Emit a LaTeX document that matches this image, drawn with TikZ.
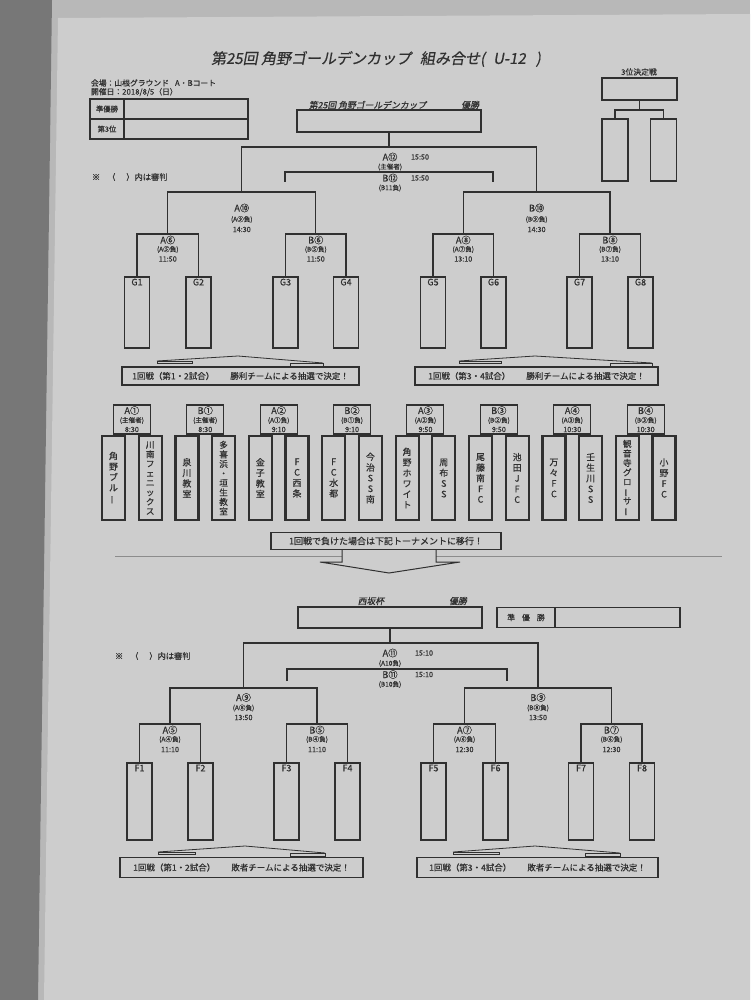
\documentclass[tikz,border=0pt]{standalone}
\usepackage{fontspec}
\usepackage{graphicx}
\setmainfont{Noto Sans CJK JP}[FakeBold=0.5]
\newfontfamily\jpsl{Noto Sans CJK JP}[FakeSlant=0.18,FakeBold=0.5]
\definecolor{ink}{HTML}{303030}
\definecolor{pagec}{HTML}{CDCDCD}
\definecolor{outc}{HTML}{B8B8B8}
\definecolor{stripc}{HTML}{777777}
\definecolor{sepc}{HTML}{8C8C8C}
\newcommand\jbar{\rotatebox[origin=c]{90}{ー}}
\begin{document}
\begin{tikzpicture}[x=1pt,y=-1pt,
  ln/.style={draw=ink,line width=1.05pt},
  bx/.style={draw=ink,line width=1.05pt,inner sep=0pt,outer sep=0pt},
  gbx/.style={bx,minimum width=25pt,minimum height=71pt},
  fbx/.style={bx,minimum width=25pt,minimum height=77pt},
  tm/.style={draw=ink,line width=2.2pt,minimum width=23pt,minimum height=84pt,inner sep=0pt,outer sep=0pt,align=center,font=\fontsize{8.9}{10.6}\selectfont,text=ink},
  tml/.style={tm,font=\fontsize{8.6}{9.5}\selectfont},
  lbx/.style={bx,minimum width=37pt,minimum height=29pt},
  tx/.style={inner sep=0pt,outer sep=0pt,text=ink},
  bigl/.style={tx,font=\fontsize{9.2}{9.5}\selectfont},
  subl/.style={tx,font=\fontsize{6.6}{7}\selectfont},
  tim/.style={tx,font=\fontsize{7.2}{7.5}\selectfont},
  ban/.style={bx,minimum height=18pt,font=\fontsize{8.5}{9}\selectfont,text=ink},
  glab/.style={label={[anchor=north,inner sep=0pt,yshift=-1.5pt,font=\fontsize{9}{9.5}\selectfont,text=ink]north:#1}}
]
\useasboundingbox (0,0) rectangle (750,1000);
% background
\fill[outc] (0,0) rectangle (750,1000);
\fill[pagec] (58,18) -- (750,14) -- (750,1000) -- (44,1000) -- cycle;
\fill[stripc] (0,0) -- (52,0) -- (38,1000) -- (0,1000) -- cycle;

% ===== header =====
\node[tx,font=\jpsl\fontsize{15}{16}\selectfont] (title) at (376,59) {第25回 角野ゴールデンカップ\hspace{9pt}組み合せ(\hspace{8pt}U-12\hspace{10pt})};
\node[tx,anchor=west,font=\fontsize{7.8}{8}\selectfont] (venue) at (91,83) {会場：山根グラウンド\hspace{6pt}A・Bコート};
\node[tx,anchor=west,font=\fontsize{7.8}{8}\selectfont] (date) at (91,92) {開催日：2018/8/5（日）};

\node[bx,line width=1.3pt,minimum width=34pt,minimum height=20pt,font=\fontsize{7.3}{8}\selectfont,text=ink] (jlab) at (107,109) {準優勝};
\node[bx,line width=1.3pt,minimum width=124pt,minimum height=20pt] (jval) at (186,109) {};
\node[bx,line width=1.3pt,minimum width=34pt,minimum height=20pt,font=\fontsize{7.3}{8}\selectfont,text=ink] (slab) at (107,129) {第3位};
\node[bx,line width=1.3pt,minimum width=124pt,minimum height=20pt] (sval) at (186,129) {};

\node[tx,anchor=west,font=\fontsize{8.2}{9}\selectfont] (note1) at (92,177) {※\hspace{7pt}（\hspace{11pt}）内は審判};

% winner box upper
\node[tx,anchor=west,font=\jpsl\fontsize{8.8}{9}\selectfont] (uwt) at (309,105) {第25回 角野ゴールデンカップ};
\node[tx,anchor=east,font=\jpsl\fontsize{8.8}{9}\selectfont] (uwy) at (479,105) {優勝};
\node[bx,minimum width=184pt,minimum height=22pt] (uwin) at (389,121) {};

% third place
\node[tx,font=\fontsize{7.8}{8}\selectfont] (t3t) at (639,72) {3位決定戦};
\node[bx,minimum width=75pt,minimum height=22pt] (u3) at (639.5,89) {};
\node[bx,minimum width=26pt,minimum height=62pt] (u3a) at (615,150) {};
\node[bx,minimum width=26pt,minimum height=62pt] (u3b) at (663.5,150) {};
\coordinate (u3m) at (639.5,110);
\draw[ln] (u3.south) -- (u3m);
\draw[ln] (u3a.north) |- (u3m) -| (u3b.north);

% ===== upper bracket =====
\node[gbx,glab=G1] (g1) at (137,312.5) {};
\node[gbx,glab=G2] (g2) at (198.5,312.5) {};
\node[gbx,glab=G3] (g3) at (285.5,312.5) {};
\node[gbx,glab=G4] (g4) at (346,312.5) {};
\node[gbx,glab=G5] (g5) at (433,312.5) {};
\node[gbx,glab=G6] (g6) at (493.5,312.5) {};
\node[gbx,glab=G7] (g7) at (579.5,312.5) {};
\node[gbx,glab=G8] (g8) at (640.5,312.5) {};
\coordinate (ua1) at (167.75,234);
\coordinate (ua2) at (315.75,234);
\coordinate (ua3) at (463.25,234);
\coordinate (ua4) at (610,234);
\coordinate (ub1) at (241.75,192);
\coordinate (ub2) at (536.6,192);
\coordinate (uc) at (389,147);
\draw[ln] (g1.north) |- (ua1) -| (g2.north);
\draw[ln] (g3.north) |- (ua2) -| (g4.north);
\draw[ln] (g5.north) |- (ua3) -| (g6.north);
\draw[ln] (g7.north) |- (ua4) -| (g8.north);
\draw[ln] (ua1) |- (ub1) -| (ua2);
\draw[ln] (ua3) |- (ub2) -| (ua4);
\draw[ln] (ub1) |- (uc) -| (ub2);
\draw[ln] (uwin.south) -- (uc);
\coordinate (uk0) at (389,172);
\coordinate (uk1) at (285,182);
\coordinate (uk2) at (493,182);
\draw[ln] (uk1) |- (uk0) -| (uk2);

% upper labels
\node[bigl] (la6) at (167.75,240) {A⑥};
\node[subl] (la6s) at (167.75,249.5) {(A⑤負)};
\node[tim] (la6t) at (167.75,259) {11:50};
\node[bigl] (lb6) at (315.75,240) {B⑥};
\node[subl] (lb6s) at (315.75,249.5) {(B⑤負)};
\node[tim] (lb6t) at (315.75,259) {11:50};
\node[bigl] (la8) at (463.25,240) {A⑧};
\node[subl] (la8s) at (463.25,249.5) {(A⑦負)};
\node[tim] (la8t) at (463.25,259) {13:10};
\node[bigl] (lb8) at (610,240) {B⑧};
\node[subl] (lb8s) at (610,249.5) {(B⑦負)};
\node[tim] (lb8t) at (610,259) {13:10};
\node[bigl] (la10) at (241.75,208) {A⑩};
\node[subl] (la10s) at (241.75,219.5) {(A⑨負)};
\node[tim] (la10t) at (241.75,229.5) {14:30};
\node[bigl] (lb10) at (536.6,208) {B⑩};
\node[subl] (lb10s) at (536.6,219.5) {(B⑨負)};
\node[tim] (lb10t) at (536.6,229.5) {14:30};
\node[bigl] (la12) at (390,157) {A⑫};
\node[tim] (la12t) at (420,157) {15:50};
\node[subl] (la12s) at (390,167) {(主催者)};
\node[bigl] (lb12) at (390,178) {B⑫};
\node[tim] (lb12t) at (420,178) {15:50};
\node[subl] (lb12s) at (390,188) {(B11負)};

% banners upper
\node[ban,minimum width=237pt] (b1) at (240.5,376) {1回戦（第1・2試合）\hspace{16pt}勝利チームによる抽選で決定！};
\node[ban,minimum width=243pt] (b2) at (536.5,376) {1回戦（第3・4試合）\hspace{16pt}勝利チームによる抽選で決定！};
\draw[ln,line width=0.8pt] (157,361) -- (238,356) -- (323,363);
\draw[ln,line width=0.8pt] (157,361) rectangle (192,363.5);
\draw[ln,line width=0.8pt] (290,363) rectangle (323,366);
\draw[ln,line width=0.8pt] (459,361) -- (535,356) -- (652,363);
\draw[ln,line width=0.8pt] (459,361) rectangle (501,363.5);
\draw[ln,line width=0.8pt] (610,363) rectangle (652,366);

% ===== first round =====
\node[lbx] (m1) at (131.85,419.5) {};
\node[lbx] (m2) at (205.25,419.5) {};
\node[lbx] (m3) at (278.65,419.5) {};
\node[lbx] (m4) at (352.05,419.5) {};
\node[lbx] (m5) at (425.45,419.5) {};
\node[lbx] (m6) at (498.85,419.5) {};
\node[lbx] (m7) at (572.25,419.5) {};
\node[lbx] (m8) at (645.65,419.5) {};
\node[bigl] at (m1.north) [yshift=-5.5pt] (m1a) {A①};
\node[subl] at (m1.center) [yshift=-1pt] (m1b) {(主催者)};
\node[tim] at (m1.south) [yshift=4.5pt] (m1c) {8:30};
\node[bigl] at (m2.north) [yshift=-5.5pt] (m2a) {B①};
\node[subl] at (m2.center) [yshift=-1pt] (m2b) {(主催者)};
\node[tim] at (m2.south) [yshift=4.5pt] (m2c) {8:30};
\node[bigl] at (m3.north) [yshift=-5.5pt] (m3a) {A②};
\node[subl] at (m3.center) [yshift=-1pt] (m3b) {(A①負)};
\node[tim] at (m3.south) [yshift=4.5pt] (m3c) {9:10};
\node[bigl] at (m4.north) [yshift=-5.5pt] (m4a) {B②};
\node[subl] at (m4.center) [yshift=-1pt] (m4b) {(B①負)};
\node[tim] at (m4.south) [yshift=4.5pt] (m4c) {9:10};
\node[bigl] at (m5.north) [yshift=-5.5pt] (m5a) {A③};
\node[subl] at (m5.center) [yshift=-1pt] (m5b) {(A②負)};
\node[tim] at (m5.south) [yshift=4.5pt] (m5c) {9:50};
\node[bigl] at (m6.north) [yshift=-5.5pt] (m6a) {B③};
\node[subl] at (m6.center) [yshift=-1pt] (m6b) {(B②負)};
\node[tim] at (m6.south) [yshift=4.5pt] (m6c) {9:50};
\node[bigl] at (m7.north) [yshift=-5.5pt] (m7a) {A④};
\node[subl] at (m7.center) [yshift=-1pt] (m7b) {(A③負)};
\node[tim] at (m7.south) [yshift=4.5pt] (m7c) {10:30};
\node[bigl] at (m8.north) [yshift=-5.5pt] (m8a) {B④};
\node[subl] at (m8.center) [yshift=-1pt] (m8b) {(B③負)};
\node[tim] at (m8.south) [yshift=4.5pt] (m8c) {10:30};

\node[tm] (t1) at (113.5,478) {角\\野\\ブ\\ル\\\jbar};
\node[tml] (t2) at (150.2,478) {川\\南\\フ\\ェ\\ニ\\ッ\\ク\\ス};
\node[tm] (t3) at (186.9,478) {泉\\川\\教\\室};
\node[tml] (t4) at (223.6,478) {多\\喜\\浜\\・\\垣\\生\\教\\室};
\node[tm] (t5) at (260.3,478) {金\\子\\教\\室};
\node[tm] (t6) at (297.0,478) {F\\C\\西\\条};
\node[tm] (t7) at (333.7,478) {F\\C\\水\\都};
\node[tm] (t8) at (370.4,478) {今\\治\\S\\S\\南};
\node[tm] (t9) at (407.1,478) {角\\野\\ホ\\ワ\\イ\\ト};
\node[tm] (t10) at (443.8,478) {周\\布\\S\\S};
\node[tm] (t11) at (480.5,478) {尾\\藤\\南\\F\\C};
\node[tm] (t12) at (517.2,478) {池\\田\\J\\F\\C};
\node[tm] (t13) at (553.9,478) {万\\々\\F\\C};
\node[tm] (t14) at (590.6,478) {壬\\生\\川\\S\\S};
\node[tml] (t15) at (627.3,478) {観\\音\\寺\\グ\\ロ\\\jbar\\サ\\\jbar};
\node[tm] (t16) at (664.0,478) {小\\野\\F\\C};

% ===== transfer banner & arrow =====
\draw[sepc,line width=0.8pt] (115,556) -- (722,556);
\filldraw[fill=pagec,draw=ink,line width=1pt] (342,549.5) -- (342,562) -- (320,562) -- (389,573) -- (460,562) -- (436,562) -- (436,549.5);
\node[bx,fill=pagec,minimum width=230pt,minimum height=17pt,font=\fontsize{9}{9.5}\selectfont,text=ink] (mv) at (386,541) {1回戦で負けた場合は下記トーナメントに移行！};

% ===== lower bracket =====
\node[tx,font=\jpsl\fontsize{8.8}{9}\selectfont] (lwt) at (371,601) {西坂杯};
\node[tx,font=\jpsl\fontsize{8.8}{9}\selectfont] (lwy) at (458,601) {優勝};
\node[bx,minimum width=184pt,minimum height=21pt] (lwin) at (390,617.5) {};
\node[bx,minimum width=58pt,minimum height=20pt,font=\fontsize{7.8}{8}\selectfont,text=ink] (jlab2) at (526,617.5) {準\hspace{7pt}優\hspace{7pt}勝};
\node[bx,minimum width=125pt,minimum height=20pt] (jval2) at (617.5,617.5) {};
\node[tx,anchor=west,font=\fontsize{8.2}{9}\selectfont] (note2) at (115,656) {※\hspace{7pt}（\hspace{11pt}）内は審判};

\node[fbx,glab=F1] (f1) at (139.5,801.5) {};
\node[fbx,glab=F2] (f2) at (200.5,801.5) {};
\node[fbx,glab=F3] (f3) at (286.5,801.5) {};
\node[fbx,glab=F4] (f4) at (347.5,801.5) {};
\node[fbx,glab=F5] (f5) at (433.5,801.5) {};
\node[fbx,glab=F6] (f6) at (495.5,801.5) {};
\node[fbx,glab=F7] (f7) at (581,801.5) {};
\node[fbx,glab=F8] (f8) at (642,801.5) {};
\coordinate (la1) at (170,724);
\coordinate (la2) at (317,724);
\coordinate (la3) at (464.5,724);
\coordinate (la4) at (611.5,724);
\coordinate (lb1) at (243.5,688);
\coordinate (lb2) at (538,688);
\coordinate (lc) at (390,643);
\draw[ln] (f1.north) |- (la1) -| (f2.north);
\draw[ln] (f3.north) |- (la2) -| (f4.north);
\draw[ln] (f5.north) |- (la3) -| (f6.north);
\draw[ln] (f7.north) |- (la4) -| (f8.north);
\draw[ln] (la1) |- (lb1) -| (la2);
\draw[ln] (la3) |- (lb2) -| (la4);
\draw[ln] (lb1) |- (lc) -| (lb2);
\draw[ln] (lwin.south) -- (lc);
\coordinate (lk0) at (390,669);
\coordinate (lk1) at (287,681);
\coordinate (lk2) at (507,681);
\draw[ln] (lk1) |- (lk0) -| (lk2);

\node[bigl] (qa5) at (170,730) {A⑤};
\node[subl] (qa5s) at (170,739.5) {(A④負)};
\node[tim] (qa5t) at (170,749.5) {11:10};
\node[bigl] (qb5) at (317,730) {B⑤};
\node[subl] (qb5s) at (317,739.5) {(B④負)};
\node[tim] (qb5t) at (317,749.5) {11:10};
\node[bigl] (qa7) at (464.5,730) {A⑦};
\node[subl] (qa7s) at (464.5,739.5) {(A⑥負)};
\node[tim] (qa7t) at (464.5,749.5) {12:30};
\node[bigl] (qb7) at (611.5,730) {B⑦};
\node[subl] (qb7s) at (611.5,739.5) {(B⑥負)};
\node[tim] (qb7t) at (611.5,749.5) {12:30};
\node[bigl] (qa9) at (243.5,697.5) {A⑨};
\node[subl] (qa9s) at (243.5,708) {(A⑧負)};
\node[tim] (qa9t) at (243.5,717.5) {13:50};
\node[bigl] (qb9) at (538,697.5) {B⑨};
\node[subl] (qb9s) at (538,708) {(B⑧負)};
\node[tim] (qb9t) at (538,717.5) {13:50};
\node[bigl] (qa11) at (390,653) {A⑪};
\node[tim] (qa11t) at (424,653) {15:10};
\node[subl] (qa11s) at (390,663.5) {(A10負)};
\node[bigl] (qb11) at (390,674.5) {B⑪};
\node[tim] (qb11t) at (424,674.5) {15:10};
\node[subl] (qb11s) at (390,684.5) {(B10負)};

% banners lower
\node[ban,minimum width=243pt,minimum height=20pt] (b3) at (241.5,867.5) {1回戦（第1・2試合）\hspace{16pt}敗者チームによる抽選で決定！};
\node[ban,minimum width=241pt,minimum height=20pt] (b4) at (537.5,867.5) {1回戦（第3・4試合）\hspace{16pt}敗者チームによる抽選で決定！};
\draw[ln,line width=0.8pt] (158,852) -- (245,846) -- (325,853);
\draw[ln,line width=0.8pt] (158,852) rectangle (195,854.5);
\draw[ln,line width=0.8pt] (290,853) rectangle (325,856);
\draw[ln,line width=0.8pt] (453,852) -- (535,846) -- (620,853);
\draw[ln,line width=0.8pt] (453,852) rectangle (499,854.5);
\draw[ln,line width=0.8pt] (585,853) rectangle (620,856);
\end{tikzpicture}
\end{document}
